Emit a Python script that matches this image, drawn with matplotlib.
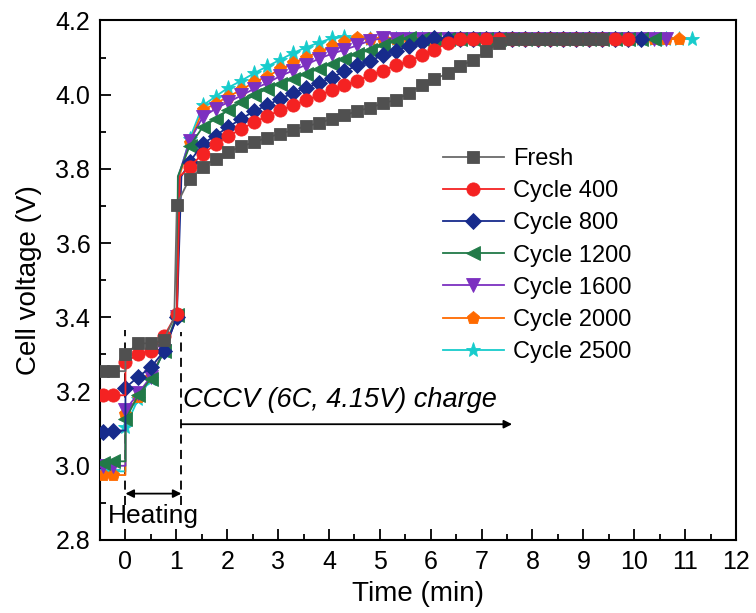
import matplotlib.pyplot as plt
from matplotlib.ticker import MultipleLocator

plt.rcParams["font.family"] = ["Liberation Sans", "DejaVu Sans"]

# marker times (min): before/while heating, then CCCV charge
t_pre = [-0.45, -0.25, 0.0, 0.25, 0.5, 0.76]
t_cv = [1.01, 1.26, 1.52, 1.77, 2.02, 2.28, 2.53, 2.78, 3.04, 3.29, 3.54,
        3.80, 4.05, 4.30, 4.56, 4.81, 5.06, 5.31, 5.57, 5.82, 6.07, 6.33,
        6.58, 6.83, 7.09, 7.34, 7.59, 7.85, 8.10, 8.35, 8.61, 8.86, 9.11,
        9.37, 9.62, 9.87, 10.13, 10.38, 10.63, 10.89, 11.14]

labels = ["Fresh", "Cycle 400", "Cycle 800", "Cycle 1200",
          "Cycle 1600", "Cycle 2000", "Cycle 2500"]

pre_v = [
    [3.255, 3.255, 3.30, 3.33, 3.33, 3.34],
    [3.19, 3.19, 3.28, 3.30, 3.31, 3.35],
    [3.09, 3.095, 3.21, 3.24, 3.265, 3.31],
    [3.008, 3.012, 3.125, 3.19, 3.235, 3.31],
    [3.0, 3.0, 3.15, 3.195, 3.24, 3.31],
    [2.975, 2.975, 3.14, 3.185, 3.24, 3.31],
    [2.985, 2.985, 3.105, 3.18, 3.235, 3.31],
]

cv_v = [
    [3.704, 3.774, 3.805, 3.828, 3.845, 3.861, 3.872, 3.884, 3.895, 3.904,
     3.915, 3.923, 3.935, 3.944, 3.956, 3.965, 3.977, 3.986, 4.004, 4.025,
     4.041, 4.058, 4.076, 4.094, 4.117, 4.139, 4.151, 4.15, 4.15, 4.15,
     4.15, 4.15, 4.15, 4.15],
    [3.41, 3.805, 3.841, 3.866, 3.888, 3.908, 3.926, 3.942, 3.958, 3.971,
     3.985, 3.998, 4.012, 4.025, 4.038, 4.052, 4.065, 4.079, 4.090, 4.106,
     4.121, 4.139, 4.15, 4.15, 4.15, 4.15, 4.15, 4.15, 4.15, 4.15, 4.15,
     4.15, 4.15, 4.15, 4.15, 4.15],
    [3.40, 3.818, 3.868, 3.89, 3.913, 3.935, 3.956, 3.971, 3.989, 4.004,
     4.018, 4.032, 4.046, 4.063, 4.079, 4.092, 4.106, 4.119, 4.13, 4.142,
     4.152, 4.15, 4.15, 4.15, 4.15, 4.15, 4.15, 4.15, 4.15, 4.15, 4.15,
     4.15, 4.15, 4.15, 4.15, 4.15, 4.15],
    [3.405, 3.861, 3.913, 3.935, 3.958, 3.98, 3.998, 4.016, 4.03, 4.042,
     4.056, 4.07, 4.083, 4.097, 4.11, 4.121, 4.133, 4.144, 4.152, 4.15,
     4.15, 4.15, 4.15, 4.15, 4.15, 4.15, 4.15, 4.15, 4.15, 4.15, 4.15,
     4.15, 4.15, 4.15, 4.15, 4.15, 4.15, 4.15],
    [3.40, 3.875, 3.94, 3.962, 3.98, 3.998, 4.016, 4.031, 4.05, 4.065,
     4.08, 4.097, 4.11, 4.121, 4.133, 4.146, 4.152, 4.15, 4.15, 4.15,
     4.15, 4.15, 4.15, 4.15, 4.15, 4.15, 4.15, 4.15, 4.15, 4.15, 4.15,
     4.15, 4.15, 4.15, 4.15, 4.15, 4.15, 4.15, 4.15],
    [3.405, 3.87, 3.958, 3.976, 3.995, 4.013, 4.034, 4.049, 4.068, 4.085,
     4.10, 4.115, 4.13, 4.142, 4.153, 4.15, 4.15, 4.15, 4.15, 4.15, 4.15,
     4.15, 4.15, 4.15, 4.15, 4.15, 4.15, 4.15, 4.15, 4.15, 4.15, 4.15,
     4.15, 4.15, 4.15, 4.15, 4.15, 4.15, 4.15, 4.15],
    [3.41, 3.88, 3.971, 3.995, 4.019, 4.038, 4.058, 4.076, 4.094, 4.112,
     4.127, 4.14, 4.152, 4.155, 4.15, 4.15, 4.15, 4.15, 4.15, 4.15, 4.15,
     4.15, 4.15, 4.15, 4.15, 4.15, 4.15, 4.15, 4.15, 4.15, 4.15, 4.15,
     4.15, 4.15, 4.15, 4.15, 4.15, 4.15, 4.15, 4.15, 4.15],
]

# where each line shoots up when the CCCV charge starts (no marker there)
jump_t = [0.96, 1.07, 1.10, 1.03, 1.04, 1.06, 1.05]
jump_v = [3.40, 3.78, 3.78, 3.78, 3.78, 3.78, 3.78]

colors = ["#505050", "#f42222", "#172b8c", "#217a48", "#7c30c0", "#ff6a00", "#17cccc"]
line_colors = ["#6a6a6a", "#f42222", "#172b8c", "#217a48", "#7c30c0", "#ff6a00", "#17cccc"]
markers = ["s", "o", "D", "<", "v", "p", "*"]
sizes = [8, 9.5, 8, 9.5, 9.5, 9.5, 11]


def build(pre, cv, kt, kv):
    pts = [(t, v, True) for t, v in zip(t_pre + t_cv[:len(cv)], pre + cv)]
    # vertical step at the start of heating
    pts.insert(2, (0.0, pre[1], False))
    i = next(j for j, p in enumerate(pts) if p[0] > kt)
    pts.insert(i, (kt, kv, False))
    t = [p[0] for p in pts]
    v = [p[1] for p in pts]
    marks = [j for j, p in enumerate(pts) if p[2]]
    return t, v, marks


fig = plt.figure(figsize=(7.56, 6.13), dpi=100)
ax = fig.add_axes([0.1323, 0.1191, 0.8412, 0.8475])

for i in range(len(labels)):
    t, v, marks = build(pre_v[i], cv_v[i], jump_t[i], jump_v[i])
    ax.plot(t, v, color=line_colors[i], marker=markers[i], markersize=sizes[i],
            markevery=marks, linewidth=1.3, markeredgewidth=0.6,
            markerfacecolor=colors[i], markeredgecolor=colors[i],
            label=labels[i], zorder=10 - i)

# heating window and charge annotations
ax.plot([0, 0], [2.895, 3.365], color="black", linestyle=(0, (5, 3.5)), linewidth=1.3)
ax.plot([1.1, 1.1], [2.895, 3.36], color="black", linestyle=(0, (5, 3.5)), linewidth=1.3)
ax.annotate("", xy=(1.1, 2.925), xytext=(0, 2.925),
            arrowprops=dict(arrowstyle="<|-|>", color="black", lw=1.3,
                            mutation_scale=12, shrinkA=0, shrinkB=0))
ax.text(-0.35, 2.865, "Heating", fontsize=19, va="center", ha="left")
ax.annotate("", xy=(7.6, 3.112), xytext=(1.1, 3.112),
            arrowprops=dict(arrowstyle="-|>", color="black", lw=1.3,
                            mutation_scale=12, shrinkA=0, shrinkB=0))
ax.text(1.13, 3.177, "CCCV (6C, 4.15V) charge", fontsize=19.5, style="italic",
        va="center", ha="left")

ax.set_xlim(-0.5, 12)
ax.set_ylim(2.8, 4.2)
ax.xaxis.set_major_locator(MultipleLocator(1))
ax.xaxis.set_minor_locator(MultipleLocator(0.5))
ax.yaxis.set_major_locator(MultipleLocator(0.2))
ax.yaxis.set_minor_locator(MultipleLocator(0.1))
ax.tick_params(which="both", direction="in", top=False, right=False,
               width=1.3, labelsize=18)
ax.tick_params(which="major", length=8, pad=7)
ax.tick_params(which="minor", length=4)
for s in ax.spines.values():
    s.set_linewidth(1.5)

ax.set_xlabel("Time (min)", fontsize=20, labelpad=5)
ax.set_ylabel("Cell voltage (V)", fontsize=20, labelpad=10)

ax.legend(loc="upper left", bbox_to_anchor=(0.52, 0.777), frameon=False,
          fontsize=17, handlelength=2.6, handletextpad=0.4, labelspacing=0.43,
          borderpad=0)

fig.savefig("out.png", dpi=100)
